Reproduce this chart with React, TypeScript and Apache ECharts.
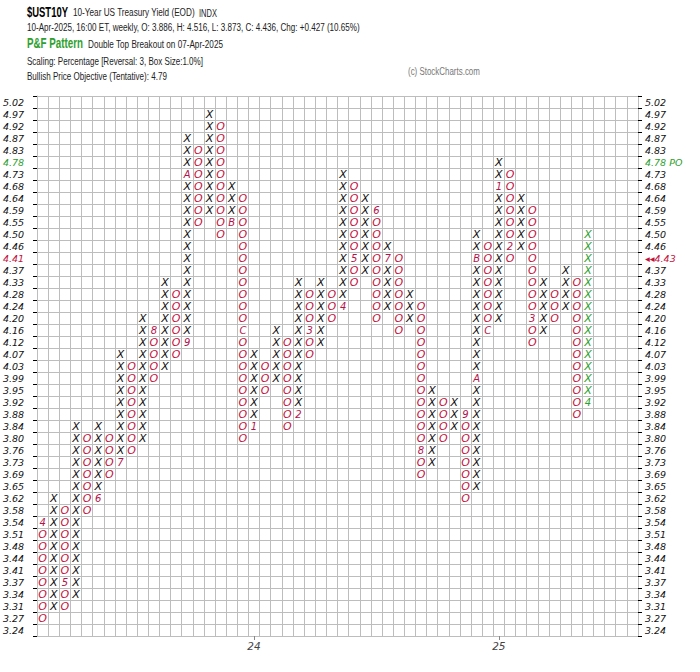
import React, { useEffect, useRef } from "react";
import * as echarts from "echarts";

// ---- Data ----
const priceLevels = [
  "5.02", "4.97", "4.92", "4.87", "4.83", "4.78", "4.73", "4.68", "4.64", "4.59",
  "4.55", "4.50", "4.46", "4.41", "4.37", "4.33", "4.28", "4.24", "4.20", "4.16",
  "4.12", "4.07", "4.03", "3.99", "3.95", "3.92", "3.88", "3.84", "3.80", "3.76",
  "3.73", "3.69", "3.65", "3.62", "3.58", "3.54", "3.51", "3.48", "3.44", "3.41",
  "3.37", "3.34", "3.31", "3.27", "3.24",
];

const rightLabels = priceLevels.map((p) => (p === "4.78" ? "4.78 PO" : p === "4.41" ? "\u25C2\u25C24.43" : p));

const columnKinds = [
  "O", "X", "O", "X", "O", "X", "O", "X", "O", "X",
  "O", "X", "O", "X", "O", "X", "O", "X", "O", "X",
  "O", "X", "O", "X", "O", "X", "O", "X", "O", "X",
  "O", "X", "O", "X", "O", "X", "O", "X", "O", "X",
  "O", "X", "O", "X", "O", "X", "O", "X", "O", "X",
];

const columnHighs = [
  "3.54", "3.62", "3.58", "3.84", "3.80", "3.84", "3.80", "4.07", "4.03", "4.20",
  "4.16", "4.33", "4.28", "4.87", "4.83", "4.97", "4.92", "4.68", "4.64", "4.07",
  "4.03", "4.16", "4.12", "4.33", "4.28", "4.33", "4.28", "4.73", "4.68", "4.64",
  "4.59", "4.46", "4.41", "4.28", "4.24", "3.95", "3.92", "3.92", "3.88", "4.50",
  "4.46", "4.78", "4.73", "4.64", "4.59", "4.33", "4.28", "4.37", "4.33", "4.50",
];

const columnLows = [
  "3.27", "3.31", "3.31", "3.34", "3.58", "3.62", "3.69", "3.73", "3.76", "3.80",
  "3.99", "4.03", "4.07", "4.12", "4.55", "4.59", "4.50", "4.55", "3.80", "3.84",
  "3.95", "3.99", "3.84", "3.88", "4.07", "4.12", "4.20", "4.24", "4.33", "4.37",
  "4.20", "4.24", "4.16", "4.20", "3.69", "3.73", "3.80", "3.84", "3.62", "3.65",
  "4.16", "4.20", "4.41", "4.46", "4.12", "4.16", "4.20", "4.24", "3.88", "3.92",
];

const monthMarkCols = [0, 2, 5, 7, 10, 13, 13, 17, 18, 19, 23, 24, 27, 28, 30, 31, 34, 38, 39, 39, 40, 41, 42, 44, 49];
const monthMarkPrices = [
  "3.54", "3.37", "3.62", "3.73", "4.16", "4.12", "4.73", "4.55", "4.16", "3.84",
  "3.88", "4.16", "4.24", "4.41", "4.59", "4.41", "3.76", "3.88", "3.99", "4.41",
  "4.16", "4.68", "4.46", "4.20", "3.92",
];
const monthMarkTexts = [
  "4", "5", "6", "7", "8", "9", "A", "B", "C", "1",
  "2", "3", "4", "5", "6", "7", "8", "9", "A", "B",
  "C", "1", "2", "3", "4",
];

const totalColumns = 54;
const currentColumn = 49;
const yearCols = [19, 41];
const yearTexts = ["24", "25"];

const xLabels = Array.from({ length: totalColumns }, (_, i) => {
  const k = yearCols.indexOf(i);
  return k >= 0 ? yearTexts[k] : "";
});

// ---- Styling ----
const X_COLOR = "#111111";
const O_COLOR = "#c4103c";
const MARK_COLOR = "#b3124a";
const GREEN = "#2ea02e";
const GRID_COLOR = "#bdbdbd";

type Cell = { col: number; row: number; ch: string; color: string; mark: boolean };

function buildCells(): Cell[] {
  const cells: Cell[] = [];
  for (let c = 0; c < columnKinds.length; c++) {
    const top = priceLevels.indexOf(columnHighs[c]);
    const bot = priceLevels.indexOf(columnLows[c]);
    for (let r = top; r <= bot; r++) {
      let ch = columnKinds[c];
      let color = ch === "X" ? X_COLOR : O_COLOR;
      let mark = false;
      for (let m = 0; m < monthMarkCols.length; m++) {
        if (monthMarkCols[m] === c && priceLevels.indexOf(monthMarkPrices[m]) === r) {
          ch = monthMarkTexts[m];
          color = MARK_COLOR;
          mark = true;
        }
      }
      if (c === currentColumn) color = GREEN;
      cells.push({ col: c, row: r, ch, color, mark });
    }
  }
  return cells;
}

let measureCtx: CanvasRenderingContext2D | null = null;
function measure(text: string, font: string): number {
  if (!measureCtx) measureCtx = document.createElement("canvas").getContext("2d");
  if (!measureCtx) return text.length * 6;
  measureCtx.font = font;
  return measureCtx.measureText(text).width;
}

function fitText(text: string, x: number, y: number, width: number, size: number, weight: string, fill: string) {
  const family = "Liberation Sans";
  const w = measure(text, `${weight} ${size}px "${family}"`);
  return {
    type: "text",
    x,
    y,
    scaleX: w > 0 ? width / w : 1,
    silent: true,
    style: {
      text,
      fontFamily: family,
      fontSize: size,
      fontWeight: weight,
      fill,
      align: "left",
      verticalAlign: "middle",
    },
  };
}

export default function App() {
  const ref = useRef<HTMLDivElement>(null);

  useEffect(() => {
    if (!ref.current) return;
    const chart = echarts.init(ref.current, null, { renderer: "svg" });
    const cells = buildCells();

    const labelFont = { fontFamily: "DejaVu Sans", fontStyle: "italic", fontSize: 9.5 };

    const option = {
      animation: false,
      backgroundColor: "#ffffff",
      grid: { left: 35, right: 62, top: 96, bottom: 36, containLabel: false },
      xAxis: {
        type: "category",
        data: xLabels,
        boundaryGap: true,
        axisLine: { show: true, lineStyle: { color: GRID_COLOR } },
        axisTick: {
          show: true,
          alignWithLabel: true,
          length: 4,
          interval: (i: number) => xLabels[i] !== "",
          lineStyle: { color: "#888" },
        },
        axisLabel: {
          interval: 0,
          margin: 4,
          color: "#444",
          fontFamily: "DejaVu Sans",
          fontStyle: "italic",
          fontSize: 10.5,
        },
        splitLine: { show: true, interval: 0, lineStyle: { color: GRID_COLOR, width: 1 } },
      },
      yAxis: [
        {
          type: "category",
          data: priceLevels,
          inverse: true,
          boundaryGap: true,
          position: "left",
          axisLine: { show: true, lineStyle: { color: GRID_COLOR } },
          axisTick: { show: true, interval: 0, length: 4, lineStyle: { color: "#000" } },
          axisLabel: {
            interval: 0,
            align: "left",
            margin: 34,
            ...labelFont,
            color: (v: string) => (v === "4.78" ? GREEN : v === "4.41" ? O_COLOR : "#111"),
          },
          splitLine: { show: true, interval: 0, lineStyle: { color: GRID_COLOR, width: 1 } },
        },
        {
          type: "category",
          data: rightLabels,
          inverse: true,
          boundaryGap: true,
          position: "right",
          axisLine: { show: true, lineStyle: { color: GRID_COLOR } },
          axisTick: { show: true, interval: 0, length: 4, lineStyle: { color: "#000" } },
          axisLabel: {
            interval: 0,
            align: "left",
            margin: 7,
            ...labelFont,
            color: (v: string) => (v.indexOf("PO") >= 0 ? GREEN : v.indexOf("4.43") >= 0 ? O_COLOR : "#111"),
          },
          splitLine: { show: false },
        },
      ],
      series: [
        {
          type: "custom",
          xAxisIndex: 0,
          yAxisIndex: 0,
          data: cells.map((c) => [c.col, c.row]),
          encode: { x: 0, y: 1 },
          renderItem: (params: any, api: any) => {
            const c = cells[params.dataIndex];
            const p = api.coord([api.value(0), api.value(1)]);
            return {
              type: "text",
              x: p[0],
              y: p[1] + 0.5,
              silent: true,
              style: {
                text: c.ch,
                fill: c.color,
                fontFamily: "DejaVu Sans",
                fontStyle: "italic",
                fontSize: c.mark ? 10 : 11,
                fontWeight: "normal",
                align: "center",
                verticalAlign: "middle",
              },
            };
          },
        },
      ],
      graphic: [
        fitText("$UST10Y", 27, 12, 41, 14, "bold", "#000"),
        fitText("10-Year US Treasury Yield (EOD)", 73, 12.5, 122, 11, "normal", "#222"),
        fitText("INDX", 199, 12.5, 18, 11, "normal", "#222"),
        fitText(
          "10-Apr-2025, 16:00 ET, weekly, O: 3.886, H: 4.516, L: 3.873, C: 4.436, Chg: +0.427 (10.65%)",
          27, 27.5, 333, 11, "normal", "#222"
        ),
        fitText("P&F Pattern", 27, 43.5, 56, 14, "bold", GREEN),
        fitText("Double Top Breakout on 07-Apr-2025", 88, 44.5, 135, 11, "normal", "#222"),
        fitText("Scaling: Percentage [Reversal: 3, Box Size:1.0%]", 27, 61, 176, 11, "normal", "#222"),
        fitText("Bullish Price Objective (Tentative): 4.79", 27, 76, 140, 11, "normal", "#222"),
        fitText("(c) StockCharts.com", 408, 71, 72, 11, "normal", "#777"),
      ],
    };

    chart.setOption(option as any);
    return () => chart.dispose();
  }, []);

  return (
    <div
      ref={ref}
      style={{ position: "fixed", left: 0, top: 0, width: 700, height: 672, background: "#fff" }}
    />
  );
}
